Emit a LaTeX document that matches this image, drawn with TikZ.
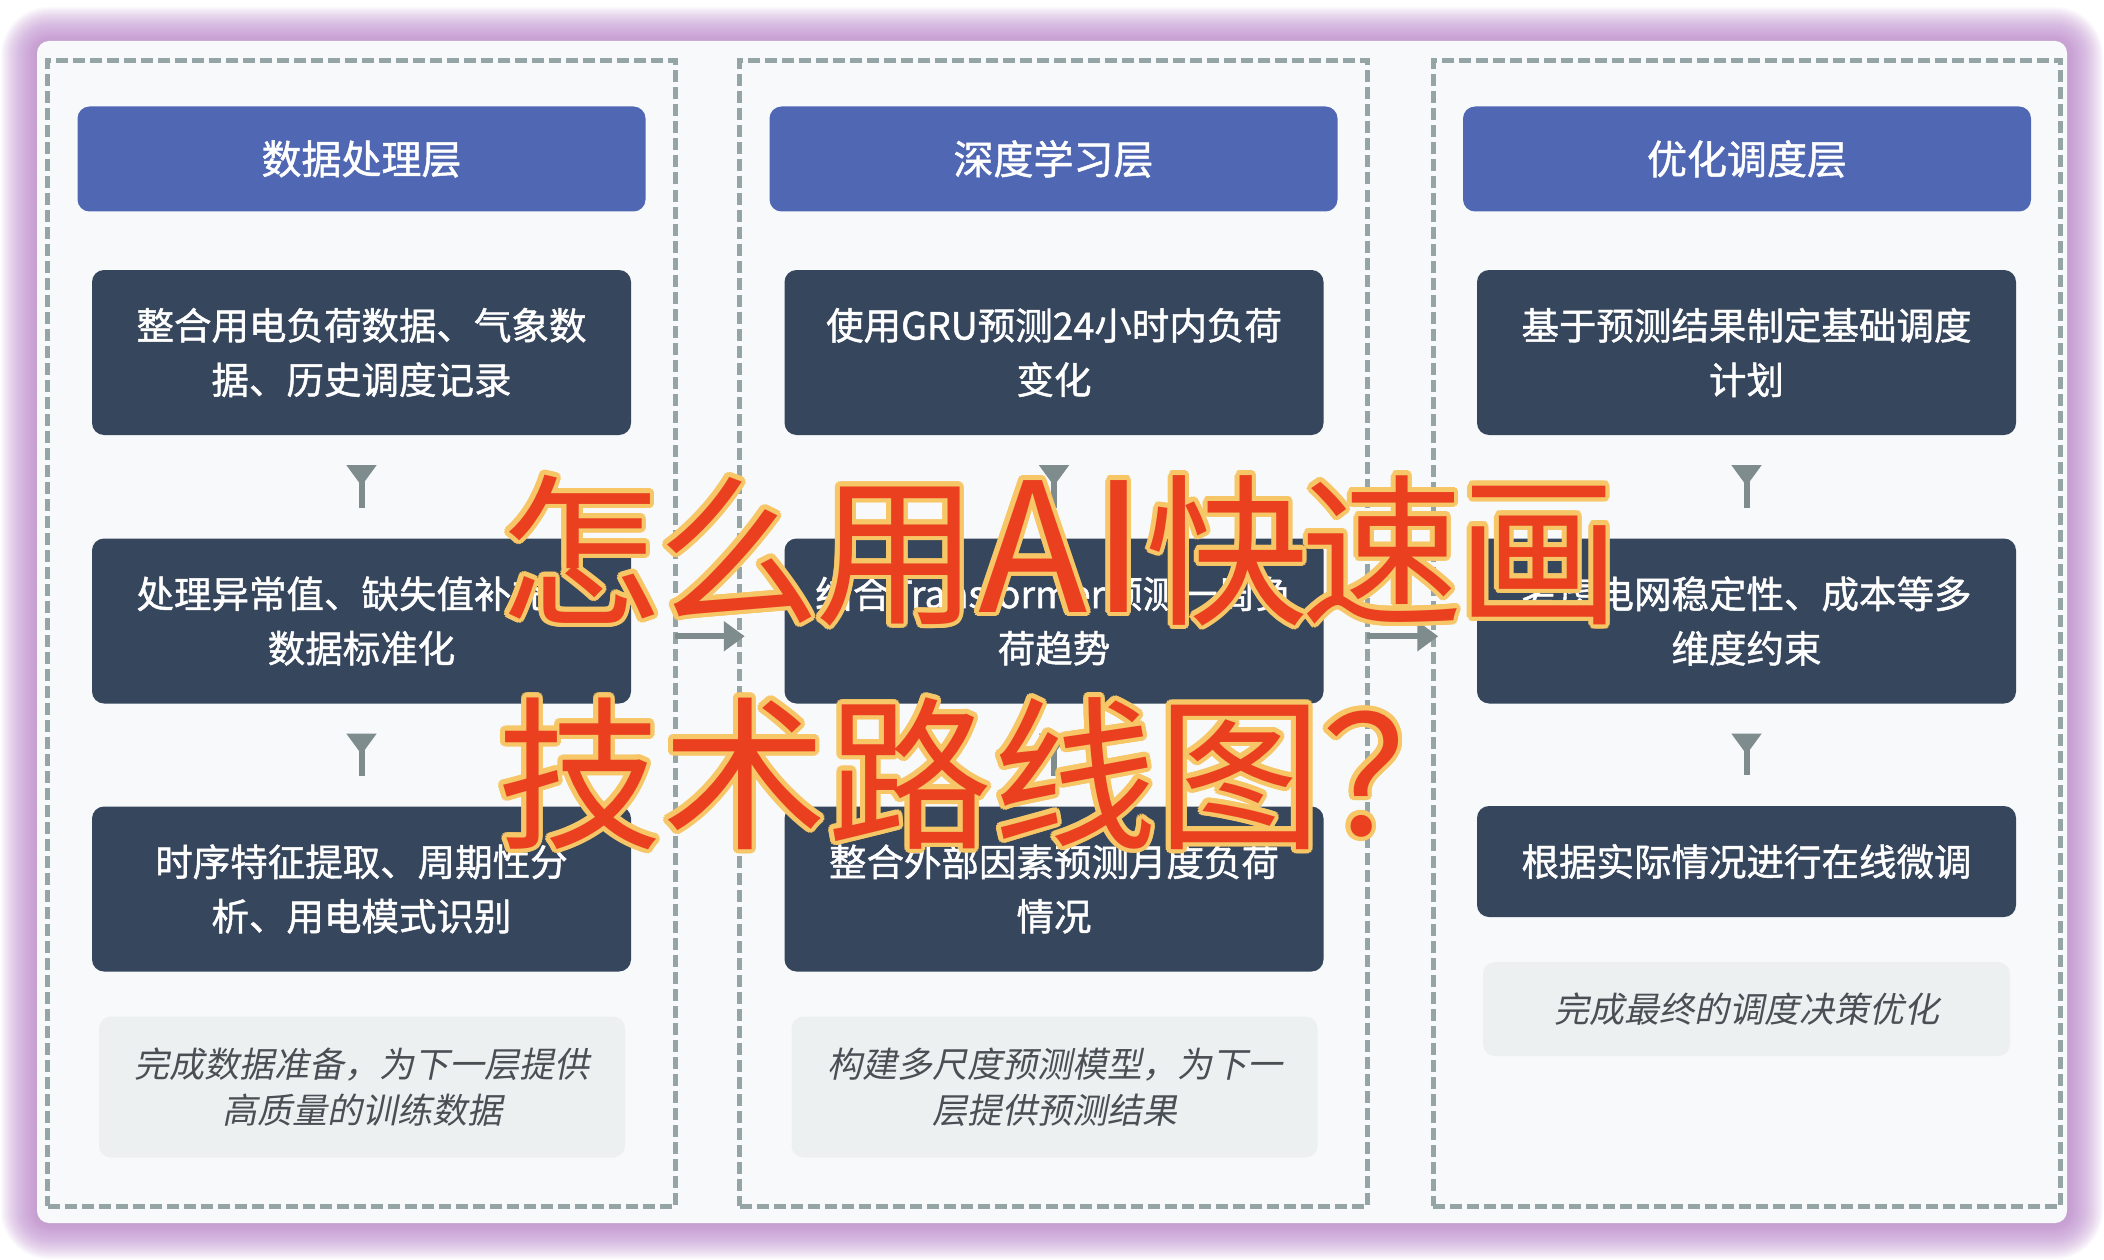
\documentclass[tikz,border=0pt]{standalone}
\usepackage{fontspec}
\setmainfont{Noto Sans CJK SC}
\newfontfamily\cjkmed{Noto Sans CJK SC}[FakeBold=1.2]
\newfontfamily\cjkit{Noto Sans CJK SC}[FakeSlant=0.2]
\usetikzlibrary{arrows.meta}
\definecolor{hdr}{HTML}{5068B4}
\definecolor{darkbox}{HTML}{36465C}
\definecolor{sumfill}{HTML}{ECF0F1}
\definecolor{sumtext}{HTML}{4A4F55}
\definecolor{dashc}{HTML}{95A5A6}
\definecolor{arrc}{HTML}{7F8C8D}
\definecolor{cardc}{HTML}{F8F9FB}
\definecolor{glow}{HTML}{C08CD2}
\definecolor{ovred}{HTML}{EA4020}
\definecolor{ovyel}{HTML}{F6C667}
\newcommand\ovlineA{怎\kern-5pt 么\kern-5pt 用{\fontsize{180}{180}\selectfont A\kern5pt I}快\kern-8pt 速\kern-6pt 画}
\newcommand\ovlineB{技术路线图？}
\begin{document}
\begin{tikzpicture}[x=1pt,y=-1pt,
  every node/.style={outer sep=0pt, inner sep=0pt},
  colbox/.style={draw=dashc, line width=5pt, dash pattern=on 12pt off 5pt, minimum width=627.5pt, minimum height=1145.5pt},
  hdrbox/.style={fill=hdr, rounded corners=12pt, minimum width=568pt, minimum height=105pt, text=white, font=\cjkmed\fontsize{40}{48}\selectfont},
  stepbox/.style={fill=darkbox, rounded corners=12pt, minimum width=539pt, minimum height=165pt, text=white, align=center, font=\cjkmed\fontsize{37.5}{54.4}\selectfont},
  sumbox/.style={fill=sumfill, rounded corners=12pt, minimum width=526pt, minimum height=141pt, text=sumtext, align=center, font=\cjkit\fontsize{35}{46}\selectfont},
  varrow/.style={draw=arrc, line width=6pt, {Triangle[reversed,width=29pt,length=21pt]}-, shorten <=30pt, shorten >=31pt},
  harrow/.style={draw=arrc, line width=6pt, -{Triangle[width=29pt,length=21pt]}, shorten >=-5pt},
  ovtextA/.style={anchor=base west, font=\fontsize{163}{163}\selectfont},
  ovtextB/.style={anchor=base west, font=\fontsize{165}{165}\selectfont}
]
\useasboundingbox (0,0) rectangle (2104,1260);
\fill[white] (0,0) rectangle (2104,1260);
% glow
\foreach \i [evaluate=\i as \e using (37-\i)*1.0, evaluate=\i as \r using 12+(37-\i)*1.0] in {1,...,36}
  \fill[glow, fill opacity=0.04, rounded corners=\r pt] (37-\e,43-\e) rectangle (2067+\e,1223+\e);
\fill[cardc, rounded corners=12pt] (37,41) rectangle (2067,1223);

% columns
\node[colbox] (c1) at (361.25,633.25) {};
\node[colbox] (c2) at (1053.5,633.25) {};
\node[colbox] (c3) at (1747,633.25) {};

% headers
\node[hdrbox] (h1) at (361.5,159) {数据处理层};
\node[hdrbox] (h2) at (1053.5,159) {深度学习层};
\node[hdrbox] (h3) at (1747,159) {优化调度层};

% column 1
\node[stepbox] (b11) at (361.5,352.5) {整合用电负荷数据、气象数\\据、历史调度记录};
\node[stepbox] (b12) at (361.5,621) {处理异常值、缺失值补充、\\数据标准化};
\node[stepbox] (b13) at (361.5,889) {时序特征提取、周期性分\\析、用电模式识别};
\node[sumbox] (s1) at (362,1087) {完成数据准备，为下一层提供\\高质量的训练数据};

% column 2
\node[stepbox] (b21) at (1054,352.5) {使用GRU预测24小时内负荷\\变化};
\node[stepbox] (b22) at (1054,621) {结合Transformer预测一周负\\荷趋势};
\node[stepbox] (b23) at (1054,889) {整合外部因素预测月度负荷\\情况};
\node[sumbox] (s2) at (1054.5,1087) {构建多尺度预测模型，为下一\\层提供预测结果};

% column 3
\node[stepbox] (b31) at (1746.5,352.5) {基于预测结果制定基础调度\\计划};
\node[stepbox] (b32) at (1746.5,621) {考虑电网稳定性、成本等多\\维度约束};
\node[stepbox, minimum height=111pt] (b33) at (1746.5,861.5) {根据实际情况进行在线微调};
\node[sumbox, minimum height=94pt, minimum width=527pt] (s3) at (1746.5,1009) {完成最终的调度决策优化};

% vertical arrows
\draw[varrow] (b11.south) -- (b12.north);
\draw[varrow] (b12.south) -- (b13.north);
\draw[varrow] (b21.south) -- (b22.north);
\draw[varrow] (b22.south) -- (b23.north);
\draw[varrow] (b31.south) -- (b32.north);
\draw[varrow] (b32.south) -- (b33.north);

% horizontal arrows
\draw[harrow] ([yshift=-3pt]c1.east) -- ([yshift=-3pt]c2.west);
\draw[harrow] ([yshift=-3pt]c2.east) -- ([yshift=-3pt]c3.west);

% overlay title
\foreach \a [count=\k] in {0,22.5,...,337.5} {
  \node[ovtextA, text=ovyel, xshift={4.5pt*cos(\a)}, yshift={4.5pt*sin(\a)}] (oa\k) at (499,612) {\ovlineA};
  \node[ovtextB, text=ovyel, xshift={4.5pt*cos(\a)}, yshift={4.5pt*sin(\a)}] (ob\k) at (497,836) {\ovlineB};
}
\node[ovtextA, text=ovred] (ta) at (499,612) {\ovlineA};
\node[ovtextB, text=ovred] (tb) at (497,836) {\ovlineB};
\end{tikzpicture}
\end{document}
